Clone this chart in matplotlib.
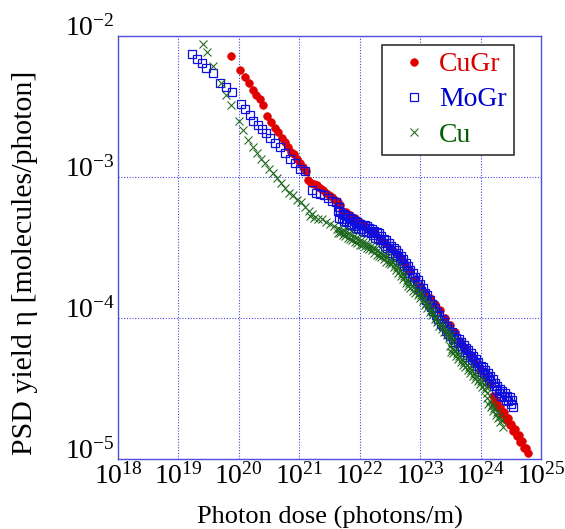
import numpy as np
import matplotlib
matplotlib.use("Agg")
import matplotlib.pyplot as plt

plt.rcParams["font.family"] = ["Liberation Serif", "DejaVu Serif"]
plt.rcParams["mathtext.fontset"] = "custom"
plt.rcParams["mathtext.rm"] = "Liberation Serif"
plt.rcParams["axes.unicode_minus"] = False

# log10 of photon dose (photons/m) and of PSD yield
cugr_dose_exp = [
    19.87, 20.02, 20.10, 20.17, 20.23, 20.28, 20.35, 20.40, 20.47, 20.53,
    20.60, 20.65, 20.71, 20.76, 20.81, 20.86, 20.91, 20.96, 21.01, 21.06, 21.11,
    21.14, 21.19, 21.24, 21.29, 21.34, 21.39, 21.44, 21.49, 21.54, 21.59, 21.64, 21.67,
    21.71, 21.77, 21.84, 21.92, 22.00, 22.08, 22.17, 22.25, 22.34, 22.42,
    22.50, 22.58, 22.67, 22.75, 22.83, 22.91, 23.00, 23.08, 23.16, 23.25,
    23.33, 23.41, 23.49, 23.57, 23.66, 23.74, 23.83, 23.91, 23.99, 24.07, 24.16,
    24.21, 24.24, 24.27, 24.30, 24.33, 24.36, 24.39, 24.42, 24.45, 24.48,
    24.51, 24.54, 24.57, 24.60, 24.63, 24.66, 24.69, 24.72, 24.75, 24.78,
]
cugr_yield_exp = [
    -2.14, -2.24, -2.29, -2.33, -2.38, -2.42, -2.45, -2.49, -2.57, -2.61,
    -2.65, -2.68, -2.72, -2.75, -2.79, -2.82, -2.84, -2.87, -2.90, -2.93, -2.96,
    -3.02, -3.04, -3.05, -3.06, -3.08, -3.09, -3.11, -3.13, -3.14, -3.16, -3.18, -3.20,
    -3.24, -3.25, -3.27, -3.29, -3.32, -3.35, -3.38, -3.40, -3.43, -3.47,
    -3.50, -3.53, -3.57, -3.62, -3.67, -3.72, -3.77, -3.82, -3.86, -3.90,
    -3.94, -4.00, -4.05, -4.10, -4.16, -4.21, -4.26, -4.32, -4.37, -4.42, -4.47,
    -4.55, -4.60, -4.59, -4.64, -4.63, -4.68, -4.67, -4.72, -4.71, -4.76,
    -4.75, -4.80, -4.79, -4.84, -4.83, -4.88, -4.87, -4.92, -4.92, -4.96,
]

mogr_dose_exp = [
    19.22, 19.31, 19.39, 19.46, 19.57, 19.69, 19.79, 19.89, 20.04, 20.10,
    20.18, 20.23, 20.32, 20.38, 20.45, 20.52, 20.60, 20.68, 20.76, 20.85,
    20.93, 21.01, 21.09,
    21.21, 21.28, 21.34, 21.41, 21.48, 21.54, 21.61, 21.66,
    21.64, 21.66, 21.68, 21.70, 21.72, 21.74, 21.76, 21.78, 21.80, 21.82,
    21.84, 21.86, 21.88, 21.90, 21.92, 21.94, 21.96, 21.98, 22.00, 22.02,
    22.04, 22.06, 22.08, 22.10, 22.12, 22.14, 22.16, 22.18, 22.20, 22.22,
    22.24, 22.26, 22.28, 22.30, 22.32, 22.34, 22.36, 22.38, 22.40, 22.42,
    22.44, 22.46, 22.48, 22.50, 22.52, 22.54, 22.56, 22.58, 22.60, 22.62,
    22.64, 22.66, 22.68, 22.70, 22.72, 22.74, 22.76, 22.78, 22.80, 22.82,
    22.84, 22.86, 22.88, 22.90, 22.92, 22.94, 22.96, 22.98, 23.00, 23.02,
    23.04, 23.06, 23.08, 23.10, 23.12, 23.14, 23.16, 23.18, 23.20, 23.22,
    23.24, 23.26, 23.28, 23.30, 23.32, 23.34, 23.36, 23.38, 23.40, 23.42,
    23.44, 23.46, 23.48, 23.50, 23.52, 23.54, 23.56, 23.58, 23.60, 23.62,
    23.64, 23.66, 23.68, 23.70, 23.72, 23.74, 23.76, 23.78, 23.80, 23.82,
    23.84, 23.86, 23.88, 23.90, 23.92, 23.94, 23.96, 23.98, 24.00, 24.02,
    24.04, 24.06, 24.08, 24.10, 24.12, 24.14, 24.16, 24.18, 24.20, 24.22,
    24.24, 24.26, 24.28, 24.30, 24.32, 24.34, 24.36, 24.38, 24.40, 24.42,
    24.44, 24.46, 24.48, 24.50, 24.52, 24.54,
]
mogr_yield_exp = [
    -2.13, -2.16, -2.19, -2.23, -2.26, -2.33, -2.36, -2.40, -2.48, -2.52,
    -2.56, -2.60, -2.63, -2.66, -2.69, -2.72, -2.76, -2.79, -2.83, -2.87,
    -2.90, -2.94, -2.96,
    -3.09, -3.11, -3.12, -3.13, -3.15, -3.17, -3.18, -3.21,
    -3.24, -3.29, -3.25, -3.30, -3.26, -3.31, -3.27, -3.32, -3.28, -3.33,
    -3.29, -3.34, -3.30, -3.35, -3.31, -3.36, -3.32, -3.37, -3.33, -3.37,
    -3.34, -3.38, -3.34, -3.39, -3.35, -3.39, -3.36, -3.40, -3.37, -3.41,
    -3.38, -3.43, -3.39, -3.44, -3.40, -3.45, -3.42, -3.47, -3.44, -3.49,
    -3.45, -3.50, -3.47, -3.52, -3.49, -3.54, -3.50, -3.55, -3.52, -3.57,
    -3.54, -3.59, -3.56, -3.61, -3.58, -3.63, -3.61, -3.66, -3.63, -3.68,
    -3.66, -3.71, -3.68, -3.74, -3.71, -3.76, -3.73, -3.79, -3.76, -3.81,
    -3.79, -3.84, -3.82, -3.87, -3.84, -3.90, -3.87, -3.92, -3.90, -3.95,
    -3.93, -3.98, -3.96, -4.01, -3.98, -4.04, -4.01, -4.06, -4.03, -4.09,
    -4.06, -4.11, -4.08, -4.13, -4.10, -4.15, -4.12, -4.17, -4.14, -4.18,
    -4.15, -4.20, -4.17, -4.22, -4.19, -4.24, -4.21, -4.26, -4.23, -4.28,
    -4.25, -4.30, -4.27, -4.32, -4.29, -4.34, -4.31, -4.36, -4.34, -4.38,
    -4.35, -4.40, -4.37, -4.42, -4.39, -4.44, -4.41, -4.46, -4.43, -4.48,
    -4.46, -4.51, -4.48, -4.53, -4.50, -4.55, -4.52, -4.56, -4.53, -4.58,
    -4.55, -4.59, -4.56, -4.61, -4.58, -4.63,
]

cu_dose_exp = [
    19.41, 19.47, 19.57, 19.70, 19.79, 19.87, 20.00, 20.07, 20.15, 20.23,
    20.30, 20.37, 20.43, 20.50, 20.56, 20.63, 20.70, 20.76, 20.83, 20.90,
    20.96, 21.03, 21.09, 21.16, 21.21,
    21.18, 21.24, 21.31, 21.38, 21.44, 21.51, 21.57,
    21.62, 21.64, 21.66, 21.68, 21.70, 21.72, 21.74, 21.76, 21.78, 21.80,
    21.82, 21.84, 21.86, 21.88, 21.90, 21.92, 21.94, 21.96, 21.98, 22.00,
    22.02, 22.04, 22.06, 22.08, 22.10, 22.12, 22.14, 22.16, 22.18, 22.20,
    22.22, 22.24, 22.26, 22.28, 22.30, 22.32, 22.34, 22.36, 22.38, 22.40,
    22.42, 22.44, 22.46, 22.48, 22.50, 22.52, 22.54, 22.56, 22.58, 22.60,
    22.62, 22.64, 22.66, 22.68, 22.70, 22.72, 22.74, 22.76, 22.78, 22.80,
    22.82, 22.84, 22.86, 22.88, 22.90, 22.92, 22.94, 22.96, 22.98, 23.00,
    23.02, 23.04, 23.06, 23.08, 23.10, 23.12, 23.14, 23.16, 23.18, 23.20,
    23.22, 23.24, 23.26, 23.28, 23.30, 23.32, 23.34, 23.36, 23.38, 23.40,
    23.42, 23.44, 23.46, 23.48, 23.50, 23.52, 23.54,
    23.49, 23.51, 23.53, 23.55, 23.57, 23.59, 23.61, 23.63, 23.65, 23.67,
    23.69, 23.71, 23.73, 23.75, 23.77, 23.79, 23.81, 23.83, 23.85, 23.87,
    23.89, 23.91, 23.93, 23.95, 23.97, 23.99, 24.01, 24.03, 24.05, 24.07,
    24.09, 24.11,
    24.11, 24.13, 24.15, 24.17, 24.19, 24.21, 24.23, 24.25, 24.27, 24.29,
    24.31, 24.33, 24.35, 24.37,
]
cu_yield_exp = [
    -2.06, -2.11, -2.21, -2.33, -2.42, -2.49, -2.60, -2.67, -2.74, -2.79,
    -2.83, -2.87, -2.90, -2.94, -2.97, -3.01, -3.04, -3.08, -3.11, -3.13,
    -3.16, -3.18, -3.21, -3.24, -3.26,
    -3.28, -3.29, -3.30, -3.30, -3.32, -3.33, -3.35,
    -3.37, -3.40, -3.37, -3.40, -3.38, -3.41, -3.38, -3.42, -3.39, -3.43,
    -3.40, -3.44, -3.41, -3.45, -3.42, -3.46, -3.43, -3.47, -3.44, -3.48,
    -3.45, -3.48, -3.46, -3.49, -3.47, -3.50, -3.48, -3.51, -3.49, -3.52,
    -3.50, -3.54, -3.51, -3.55, -3.52, -3.56, -3.54, -3.57, -3.55, -3.58,
    -3.56, -3.60, -3.57, -3.61, -3.59, -3.62, -3.60, -3.64, -3.62, -3.66,
    -3.64, -3.68, -3.66, -3.70, -3.68, -3.72, -3.70, -3.75, -3.73, -3.77,
    -3.75, -3.79, -3.77, -3.81, -3.78, -3.82, -3.80, -3.84, -3.82, -3.86,
    -3.84, -3.88, -3.86, -3.91, -3.89, -3.93, -3.91, -3.96, -3.94, -3.98,
    -3.96, -4.01, -3.99, -4.03, -4.02, -4.06, -4.04, -4.08, -4.06, -4.10,
    -4.08, -4.12, -4.10, -4.14, -4.12, -4.17, -4.15,
    -4.20, -4.24, -4.22, -4.25, -4.23, -4.27, -4.25, -4.29, -4.27, -4.31,
    -4.29, -4.33, -4.31, -4.35, -4.33, -4.37, -4.35, -4.39, -4.37, -4.41,
    -4.39, -4.43, -4.41, -4.45, -4.43, -4.47, -4.45, -4.49, -4.47, -4.51,
    -4.49, -4.53,
    -4.57, -4.61, -4.59, -4.63, -4.62, -4.66, -4.64, -4.69, -4.67, -4.71,
    -4.70, -4.74, -4.72, -4.77,
]

x_ticks = [1e18, 1e19, 1e20, 1e21, 1e22, 1e23, 1e24, 1e25]
y_ticks = [1e-5, 1e-4, 1e-3, 1e-2]

fig = plt.figure(figsize=(5.65, 5.29), dpi=100)
ax = fig.add_axes([0.2088, 0.1323, 0.7487, 0.7996])

ax.plot(10 ** np.array(cugr_dose_exp), 10 ** np.array(cugr_yield_exp),
        ls="none", marker="o", ms=5.5, mfc="#e00000", mec="#e00000", mew=0.5,
        label="CuGr")
ax.plot(10 ** np.array(mogr_dose_exp), 10 ** np.array(mogr_yield_exp),
        ls="none", marker="s", ms=6, mfc="none", mec="#0e0ee0", mew=0.9,
        label="MoGr")
ax.plot(10 ** np.array(cu_dose_exp), 10 ** np.array(cu_yield_exp),
        ls="none", marker="x", ms=5.5, mec="#1a661a", mew=0.75,
        label="Cu")

ax.set_xscale("log")
ax.set_yscale("log")
ax.set_xlim(1e18, 1e25)
ax.set_ylim(1e-5, 1e-2)
ax.set_xticks(x_ticks)
ax.set_yticks(y_ticks)
ax.minorticks_off()

ax.grid(True, which="major", color="#4848dc", ls=(0, (1, 1.5)), lw=0.8)
for spine in ax.spines.values():
    spine.set_color("#5050e0")
    spine.set_linewidth(1.0)

ax.tick_params(axis="both", length=0, labelsize=20)
ax.tick_params(axis="x", pad=3)
ax.tick_params(axis="y", pad=38)
for lab in ax.get_yticklabels():
    lab.set_horizontalalignment("left")
    lab.set_verticalalignment("baseline")

ax.set_xlabel("Photon dose (photons/m)", fontsize=19)
ax.xaxis.set_label_coords(0.5, -0.11)
ax.set_ylabel("PSD yield η [molecules/photon]", fontsize=21.5)
ax.yaxis.set_label_coords(-0.19, 0.465)

leg = ax.legend(loc="upper right", bbox_to_anchor=(0.936, 0.979),
                borderaxespad=0, fontsize=20, fancybox=False, framealpha=1,
                edgecolor="#333333", handlelength=1.8, handletextpad=0.0,
                labelspacing=0.35, borderpad=0.25)
leg.get_frame().set_linewidth(1.2)
for text, col in zip(leg.get_texts(), ["#dd0000", "#0000cc", "#006000"]):
    text.set_color(col)

fig.savefig("out.png", dpi=100)
